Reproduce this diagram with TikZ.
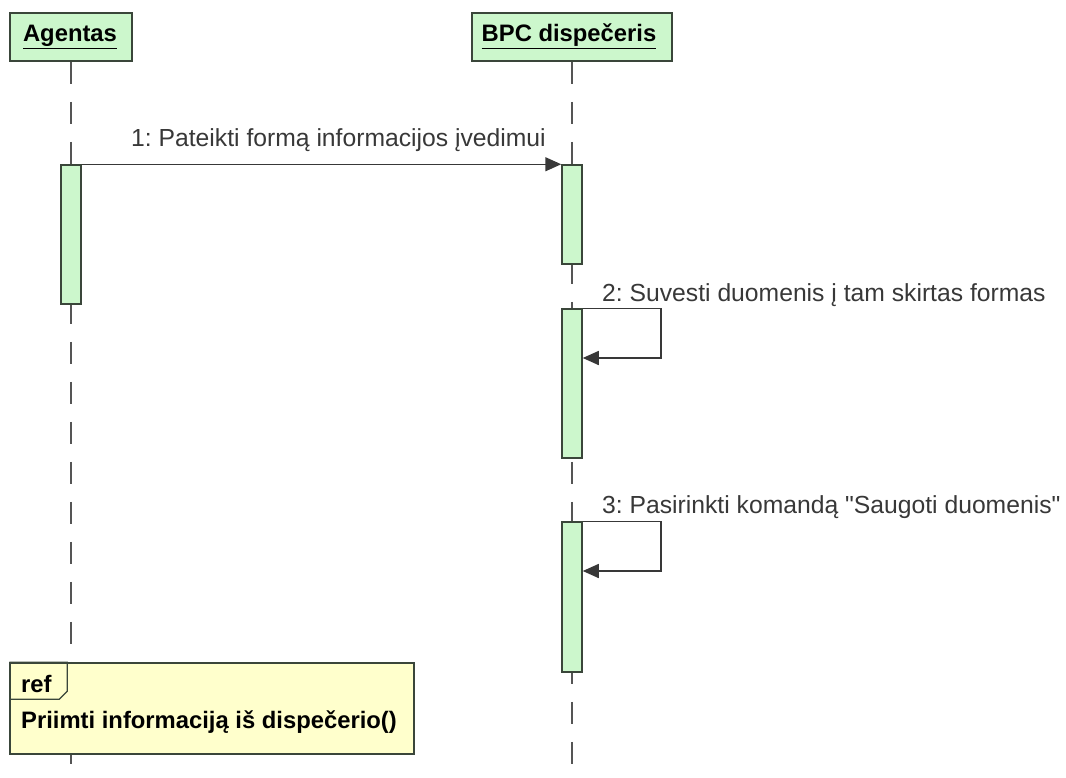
\documentclass[tikz,border=0pt]{standalone}
\usepackage{fontspec}
\setmainfont{Liberation Sans}
% plain family: no TeX ligature mapping, so straight quotes stay straight
\newfontfamily\bodyfont{Liberation Sans}
\usetikzlibrary{arrows.meta}
\definecolor{actfill}{HTML}{CCF7CC}
\definecolor{edge}{HTML}{3A463A}
\definecolor{reffill}{HTML}{FFFFCC}
\definecolor{ink}{HTML}{383838}
\definecolor{lifegray}{HTML}{555555}
\frenchspacing

\begin{document}
\begin{tikzpicture}[x=1pt,y=-1pt,
  every node/.style={font=\bodyfont\fontsize{24.7}{29}\selectfont},
  headbox/.style={draw=edge,fill=actfill,line width=1.5pt,minimum height=48pt,inner sep=0pt},
  headtext/.style={anchor=base,inner sep=0pt,font=\bodyfont\bfseries\fontsize{23.8}{28}\selectfont},
  actbox/.style={draw=edge,fill=actfill,line width=1.5pt,minimum width=20pt,inner sep=0pt},
  lifeline/.style={draw=lifegray,line width=1.5pt,dash pattern=on 22pt off 18pt},
  msg/.style={draw=ink,line width=1.5pt,-{Triangle[length=16pt,width=14pt]}},
  msglabel/.style={anchor=base west,inner sep=0pt,text=ink},
  refbox/.style={draw=edge,fill=reffill,line width=1.5pt,inner sep=0pt},
  reftext/.style={anchor=base west,inner sep=0pt,font=\bodyfont\bfseries\fontsize{23.8}{28}\selectfont}
]
\useasboundingbox (0,0) rectangle (1066,777);

% lifeline heads
\node[headbox,minimum width=122pt] (hA) at (71,37) {};
\node[headbox,minimum width=200pt] (hB) at (572,37) {};
\node[headtext] (tA) at (70,41.7) {\underline{Agentas}};
\node[headtext] (tB) at (569,41.7) {\underline{BPC dispečeris}};

% lifelines
\coordinate (endA) at (71,775);
\coordinate (endB) at (572,775);
\draw[lifeline] (hA.south) -- (endA);
\draw[lifeline] (hB.south) -- (endB);

% activations
\node[actbox,minimum height=139pt] (actA) at (71,234.5) {};
\node[actbox,minimum height=99pt] (act1) at (572,214.5) {};
\node[actbox,minimum height=149pt] (act2) at (572,383.5) {};
\node[actbox,minimum height=150pt] (act3) at (572,597) {};

% message 1
\draw[msg] (actA.north east) -- (act1.north west);
\node[msglabel] (m1) at (131,146.7) {1: Pateikti formą informacijos įvedimui};

% message 2 (self call)
\coordinate (c2) at (661,358);
\draw[msg] (act2.north east) -| (c2) -- (act2.east |- c2);
\node[msglabel] (m2) at (602,301.7) {2: Suvesti duomenis į tam skirtas formas};

% message 3 (self call)
\coordinate (c3) at (661,571);
\draw[msg] (act3.north east) -| (c3) -- (act3.east |- c3);
\node[msglabel] (m3) at (602,513) {3: Pasirinkti komandą "Saugoti duomenis"};

% interaction reference
\node[refbox,minimum width=404pt,minimum height=91pt] (ref) at (212,708.5) {};
\draw[draw=edge,line width=1.2pt] (ref.north west) -- ++(58,0) -- ++(0,29) -- ++(-8,8) -- ++(-50,0);
\node[reftext] (refl) at (21,692) {ref};
\node[reftext] (refn) at (21,728) {Priimti informaciją iš dispečerio()};
\end{tikzpicture}
\end{document}
